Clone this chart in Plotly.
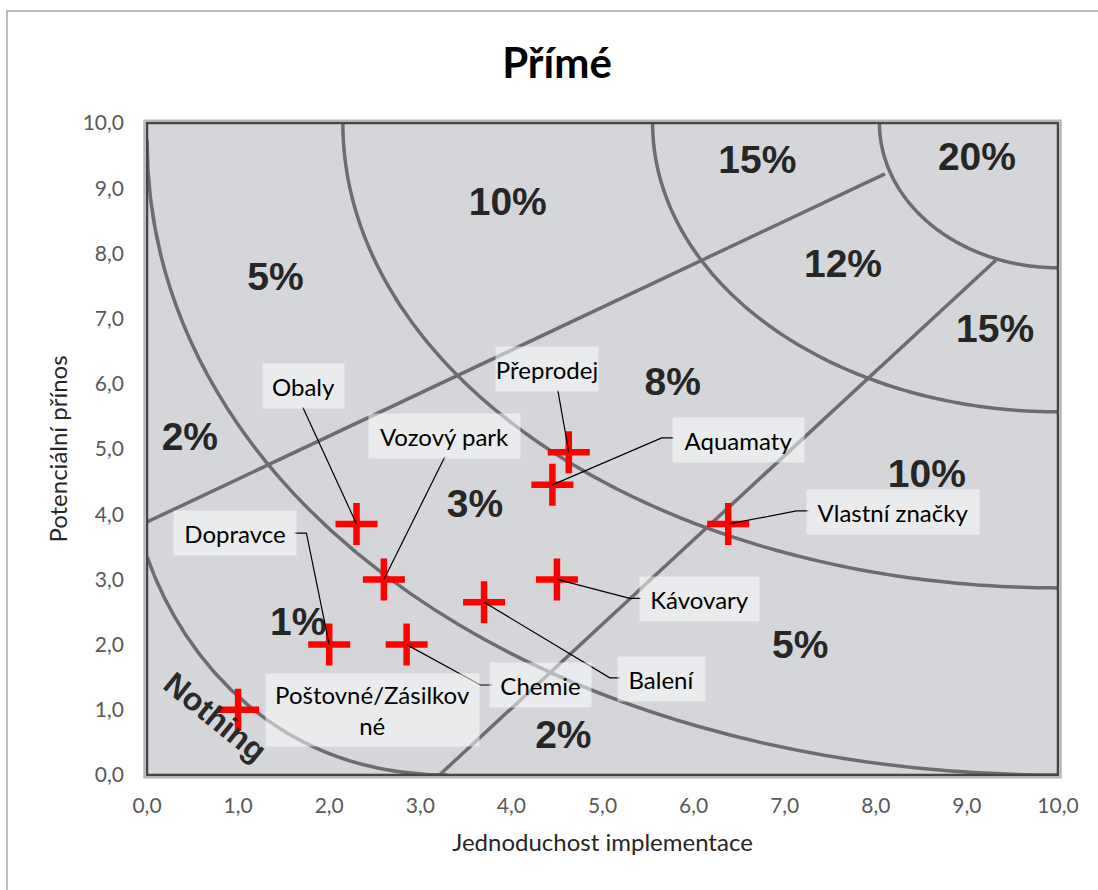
import numpy as np
import plotly.graph_objects as go

# ---- data -------------------------------------------------------------
names = ["Poštovné/Zásilkové", "Dopravce", "Chemie", "Vozový park", "Obaly",
         "Balení", "Kávovary", "Aquamaty", "Přeprodej", "Vlastní značky"]
ease = [1.0, 2.0, 2.85, 2.6, 2.3, 3.7, 4.5, 4.45, 4.63, 6.38]
benefit = [1.0, 2.0, 2.0, 3.0, 3.85, 2.65, 3.0, 4.45, 4.95, 3.85]

# zone labels of the background grid
zone_text = ["20%", "15%", "10%", "12%", "5%", "15%", "8%", "2%", "3%",
             "10%", "1%", "5%", "2%"]
zone_x = [9.11, 6.70, 3.96, 7.64, 1.41, 9.31, 5.77, 0.47, 3.60, 8.56, 1.66, 7.17, 4.57]
zone_y = [9.43, 9.39, 8.74, 7.78, 7.59, 6.79, 5.98, 5.14, 4.10, 4.56, 2.30, 1.95, 0.57]

tick_vals = [0, 1, 2, 3, 4, 5, 6, 7, 8, 9, 10]

# ---- label layout: box centre, box size (px), leader elbow ------------
label_layout = {
    "Poštovné/Zásilkové": dict(cx=2.47, cy=1.00, w=211, h=70, text="Poštovné/Zásilkov<br>né", leg=None),
    "Dopravce": dict(cx=0.97, cy=3.71, w=120, h=42, leg=[(1.62, 3.71), (1.75, 3.71)]),
    "Chemie": dict(cx=4.32, cy=1.38, w=99, h=42, leg=[(3.79, 1.38), (3.66, 1.38)]),
    "Vozový park": dict(cx=3.27, cy=5.20, w=149, h=42, leg=[(3.27, 4.88)]),
    "Obaly": dict(cx=1.72, cy=5.97, w=79, h=42, leg=[(1.71, 5.64)]),
    "Balení": dict(cx=5.65, cy=1.47, w=85, h=42, leg=[(5.19, 1.49), (5.08, 1.49)]),
    "Kávovary": dict(cx=6.07, cy=2.70, w=117, h=42, leg=[(5.42, 2.71), (5.30, 2.71)]),
    "Aquamaty": dict(cx=6.49, cy=5.14, w=129, h=42, leg=[(5.78, 5.17), (5.65, 5.17)]),
    "Přeprodej": dict(cx=4.39, cy=6.23, w=100, h=42, leg=[(4.51, 5.90)]),
    "Vlastní značky": dict(cx=8.19, cy=4.03, w=170, h=42, leg=[(7.26, 4.05), (7.13, 4.05)]),
}

ARC = "#6b6d71"
FONT = "Lato, 'Open Sans', sans-serif"


def quarter_ellipse(rx, ry, n=160):
    """Quarter ellipse around the top-right corner (10, 10) as an SVG path."""
    t = np.linspace(np.pi, 1.5 * np.pi, n)
    xs = 10 + rx * np.cos(t)
    ys = 10 + ry * np.sin(t)
    return "M " + " L ".join(f"{x:.4f},{y:.4f}" for x, y in zip(xs, ys))


shapes = []
arc_line = dict(color=ARC, width=3.5)

# curved bands
shapes.append(dict(type="path", xref="x", yref="y", layer="below", line=arc_line,
                   path="M 0,3.35 C 0.4,1.75 1.45,0.0 3.3,0.0"))
shapes.append(dict(type="path", xref="x", yref="y", layer="below", line=arc_line,
                   path="M 0,9.75 C 0,4.15 4.4,0.0 10,0.0"))
for rx, ry in [(7.85, 7.13), (4.45, 4.43), (1.96, 2.22)]:
    shapes.append(dict(type="path", xref="x", yref="y", layer="below",
                       line=arc_line, path=quarter_ellipse(rx, ry)))
# radial dividers
shapes.append(dict(type="line", xref="x", yref="y", layer="below", line=arc_line,
                   x0=0, y0=3.88, x1=8.1, y1=9.22))
shapes.append(dict(type="line", xref="x", yref="y", layer="below", line=arc_line,
                   x0=3.21, y0=0, x1=9.32, y1=7.9))

# plot frame
shapes.append(dict(type="rect", xref="paper", yref="paper", x0=-0.003, y0=-0.004,
                   x1=1.003, y1=1.004, line=dict(color="#b5b5b5", width=2)))
shapes.append(dict(type="rect", xref="paper", yref="paper", x0=0, y0=0, x1=1, y1=1,
                   line=dict(color="#454545", width=2.5)))
# chart-area border
shapes.append(dict(type="path", xref="paper", yref="paper",
                   path="M -0.1537,-0.2 L -0.1537,1.1718 L 1.06,1.1718",
                   line=dict(color="#a6a6a6", width=1.5)))

fig = go.Figure()

# zone percentages
fig.add_trace(go.Scatter(
    x=zone_x, y=zone_y, mode="text", text=zone_text,
    textposition="middle center",
    textfont=dict(family="Liberation Sans, Arial, sans-serif", size=39,
                  color="#262626", weight="bold"),
    hoverinfo="skip", showlegend=False))

# project markers
fig.add_trace(go.Scatter(
    x=ease, y=benefit, mode="markers", text=names,
    marker=dict(symbol="cross-thin", size=30,
                line=dict(color="#ff0000", width=6.5), color="#ff0000"),
    showlegend=False, hovertemplate="%{text}<br>%{x:.1f}; %{y:.1f}<extra></extra>"))

# leader lines from each label to its marker
lx, ly = [], []
for name, px, py in zip(names, ease, benefit):
    leg = label_layout[name]["leg"]
    if not leg:
        continue
    for (a, b) in leg:
        lx.append(a)
        ly.append(b)
    lx += [px, None]
    ly += [py, None]
fig.add_trace(go.Scatter(x=lx, y=ly, mode="lines",
                         line=dict(color="#000000", width=1.2),
                         hoverinfo="skip", showlegend=False))

annotations = []
for name in names:
    L = label_layout[name]
    annotations.append(dict(
        x=L["cx"], y=L["cy"], xref="x", yref="y", showarrow=False,
        text=L.get("text", name), width=L["w"], height=L["h"],
        align="center", valign="middle",
        bgcolor="rgba(255,255,255,0.52)",
        font=dict(family=FONT, size=24, color="#000000")))

annotations.append(dict(
    x=0.75, y=0.89, xref="x", yref="y", showarrow=False, text="Nothing",
    textangle=39, font=dict(family="Liberation Sans, Arial, sans-serif", size=32,
                            color="#2a2a2a", weight="bold")))

fig.update_layout(
    width=1098, height=890,
    margin=dict(l=147, r=40, t=123, b=115),
    paper_bgcolor="#ffffff", plot_bgcolor="#d4d6d9",
    separators=", ",
    title=dict(text="<b>Přímé</b>", x=557 / 1098, xanchor="center",
               y=1 - 63 / 890, yanchor="middle",
               font=dict(family=FONT, size=42, color="#000000")),
    shapes=shapes, annotations=annotations,
    xaxis=dict(range=[0, 10], tickvals=tick_vals, tickformat=".1f",
               showgrid=False, zeroline=False, showline=False, ticks="",
               ticklabelstandoff=16,
               tickfont=dict(family=FONT, size=21, color="#595959"),
               title=dict(text="Jednoduchost implementace", standoff=18,
                          font=dict(family=FONT, size=24, color="#262626"))),
    yaxis=dict(range=[0, 10], tickvals=tick_vals, tickformat=".1f",
               showgrid=False, zeroline=False, showline=False, ticks="",
               ticklabelstandoff=22,
               tickfont=dict(family=FONT, size=21, color="#595959"),
               title=dict(text="Potenciální přínos", standoff=8,
                          font=dict(family=FONT, size=24, color="#262626"))),
)

fig.write_html("out.html")
